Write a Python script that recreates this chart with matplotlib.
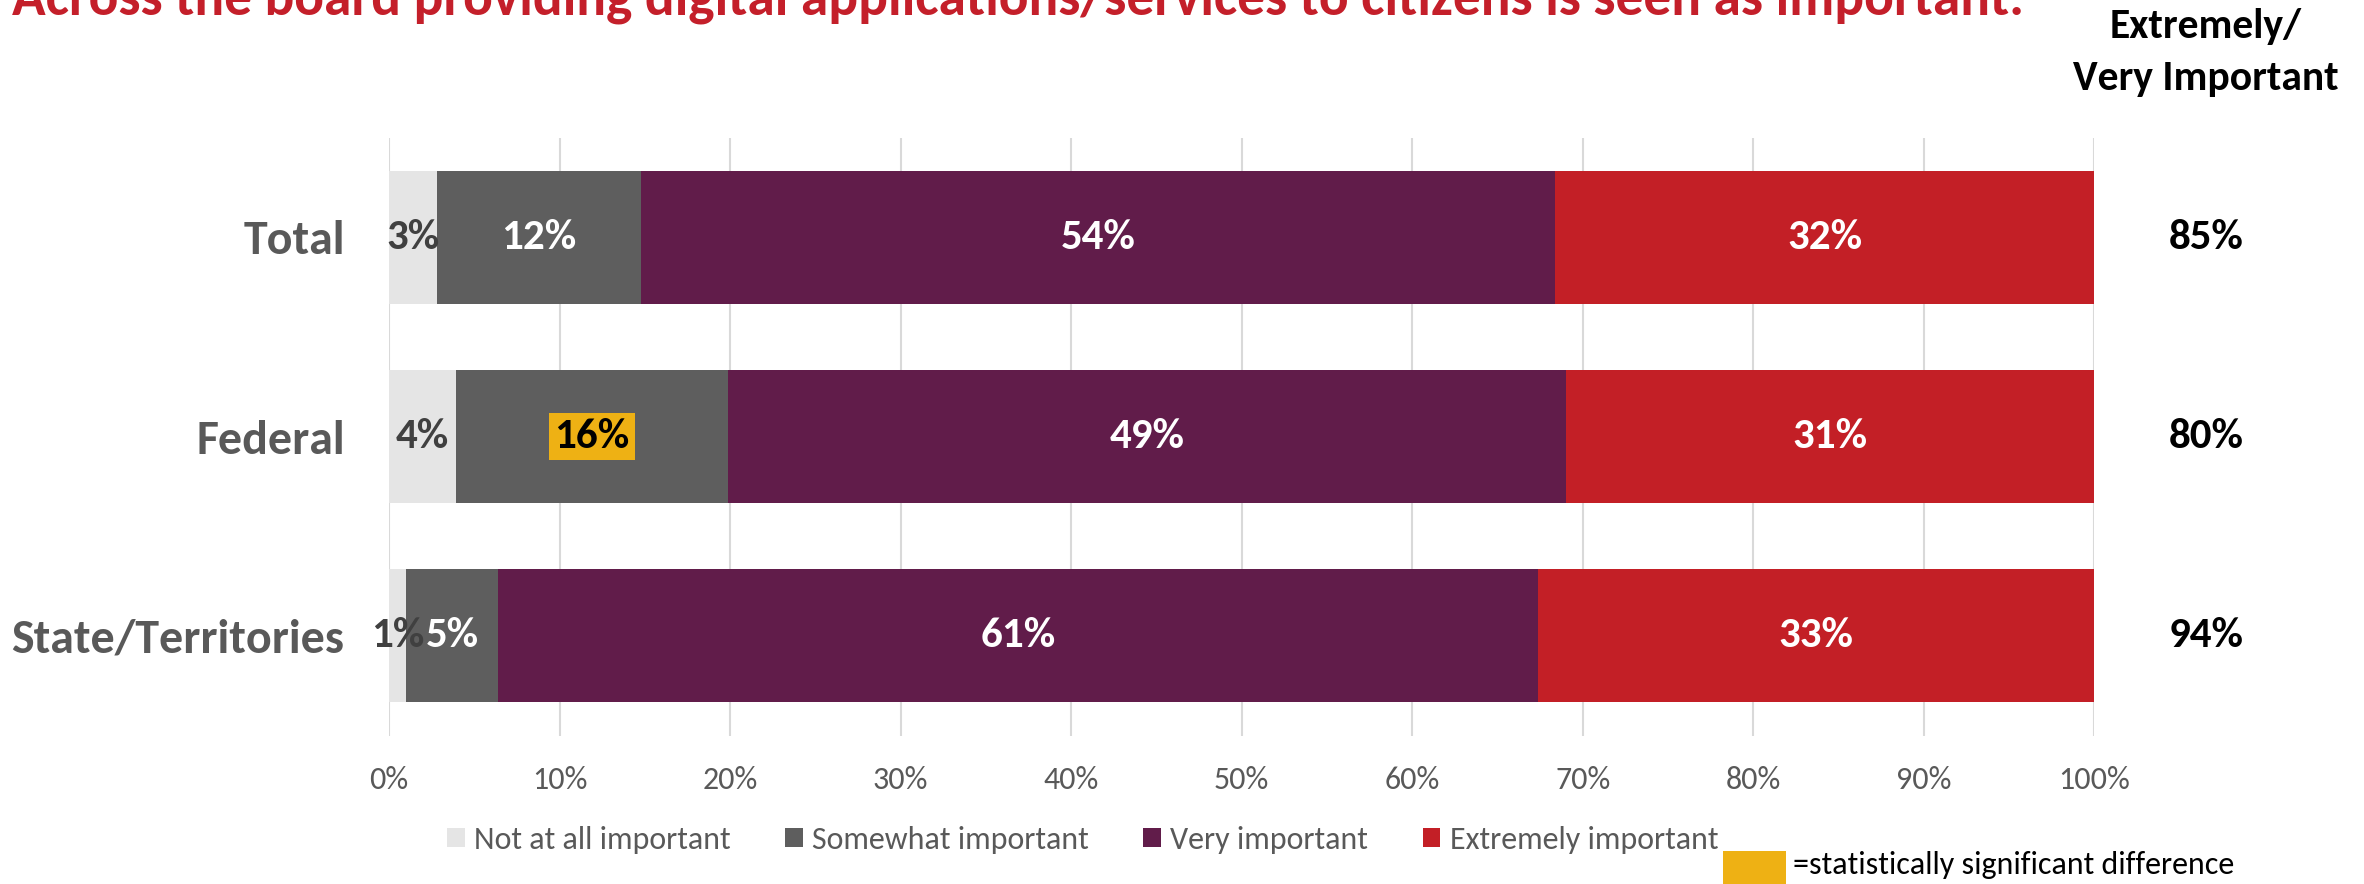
import matplotlib
matplotlib.use('Agg')
import matplotlib.pyplot as plt
from matplotlib.patches import Rectangle
from matplotlib.transforms import blended_transform_factory

plt.rcParams['font.family'] = ['Carlito', 'DejaVu Sans']

# survey shares (%), one entry per group
groups = ['Total', 'Federal', 'State/Territories']
levels = ['Not at all important', 'Somewhat important', 'Very important', 'Extremely important']
not_at_all = [2.8, 3.9, 1.0]
somewhat = [12.0, 16.0, 5.4]
very = [53.6, 49.1, 61.0]
extremely = [31.6, 31.0, 32.6]
# (group, level) cells flagged as significantly different
flagged = [(1, 1)]

title = 'Across the board providing digital applications/services to citizens is seen as important.'

COLORS = ['#E5E5E5', '#5E5E5E', '#611C4A', '#C31F26']
LABEL_CLR = ['#404040', 'white', 'white', 'white']
GOLD = '#EEB114'
GREY_TXT = '#595959'

series = [not_at_all, somewhat, very, extremely]
top_two = [v + e for v, e in zip(very, extremely)]

fig = plt.figure(figsize=(23.64, 8.84), dpi=100)
ax = fig.add_axes([0.1646, 0.1679, 0.7213, 0.6762])

ypos = list(range(len(groups)))
left = [0.0] * len(groups)
for k, (vals, col, name) in enumerate(zip(series, COLORS, levels)):
    ax.barh(ypos, vals, left=left, height=0.667, color=col, label=name, zorder=2)
    for i, v in enumerate(vals):
        kw = dict(ha='center', va='center', fontsize=31, fontweight='bold',
                  color=LABEL_CLR[k], zorder=3)
        if (i, k) in flagged:
            kw['color'] = 'black'
            kw['bbox'] = dict(boxstyle='square,pad=0.12', fc=GOLD, ec='none')
        ax.text(left[i] + v / 2, i, f'{v:.0f}%', **kw)
    left = [l + v for l, v in zip(left, vals)]

ax.set_xlim(0, 100)
ax.set_ylim(len(groups) - 0.5, -0.5)
ax.set_xticks(range(0, 101, 10))
ax.set_xticklabels([f'{t}%' for t in range(0, 101, 10)])
ax.set_yticks(ypos)
ax.set_yticklabels(groups, fontsize=34.5, fontweight='bold', color=GREY_TXT)
ax.tick_params(axis='x', length=0, pad=22, labelsize=23, labelcolor=GREY_TXT)
ax.tick_params(axis='y', length=0, pad=32)
ax.grid(axis='x', color='#D9D9D9', linewidth=1.5, zorder=0)
ax.set_axisbelow(True)
for sp in ax.spines.values():
    sp.set_visible(False)

# right-hand column: extremely + very important
col_x = 0.9332
tr = blended_transform_factory(fig.transFigure, ax.transData)
for i, v in enumerate(top_two):
    ax.text(col_x, i, f'{v:.0f}%', transform=tr, ha='center', va='center',
            fontsize=31, fontweight='bold', color='black')
fig.text(col_x, 1 - 38 / 884, 'Extremely/', ha='center', va='baseline',
         fontsize=30, fontweight='bold', color='black')
fig.text(col_x, 1 - 90 / 884, 'Very Important', ha='center', va='baseline',
         fontsize=30, fontweight='bold', color='black')

fig.text(12 / 2364, 1 - 14 / 884, title, ha='left', va='baseline',
         fontsize=40, fontweight='bold', color='#C41F2A')

fig.legend(loc='center left', bbox_to_anchor=(447 / 2364, 1 - 840 / 884),
           ncol=4, frameon=False, fontsize=23, labelcolor=GREY_TXT,
           handlelength=0.55, handleheight=0.55, handletextpad=0.3,
           columnspacing=1.7, borderpad=0, borderaxespad=0)

# significance key
fig.add_artist(Rectangle((1723 / 2364, 0), 63 / 2364, 33 / 884,
                         transform=fig.transFigure, fc=GOLD, ec='none'))
fig.text(1793 / 2364, 1 - 874 / 884, '=statistically significant difference',
         ha='left', va='baseline', fontsize=23, color='black')

fig.savefig('out.png', dpi=100)
